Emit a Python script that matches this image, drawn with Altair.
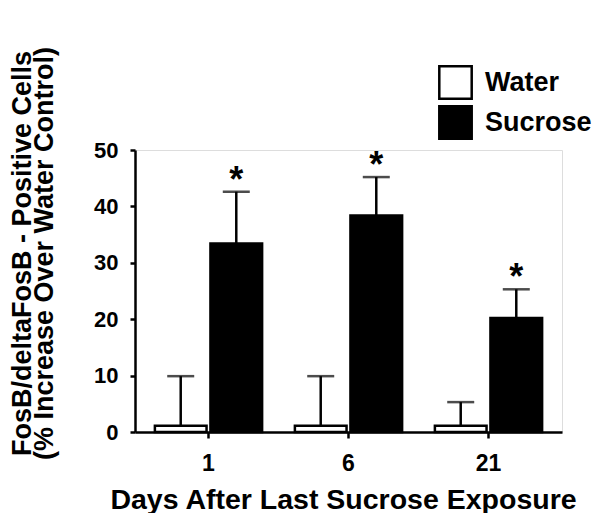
import altair as alt
import pandas as pd

days = ["1", "6", "21"]
groups = ["Water", "Sucrose"]
water_mean = [1.1, 1.1, 1.1]
water_upper = [9.9, 9.9, 5.3]
sucrose_mean = [33.4, 38.4, 20.2]
sucrose_upper = [42.6, 45.2, 25.3]
sucrose_sig = ["*", "*", "*"]

rows = []
for i, d in enumerate(days):
    rows.append({"day": d, "group": "Water", "mean": water_mean[i], "upper": water_upper[i], "sig": ""})
    rows.append({"day": d, "group": "Sucrose", "mean": sucrose_mean[i], "upper": sucrose_upper[i], "sig": sucrose_sig[i]})
df = pd.DataFrame(rows)

FONT = "Liberation Sans"

x_enc = alt.X("day:N", sort=days,
              scale=alt.Scale(paddingInner=0.234, paddingOuter=0.142),
              axis=alt.Axis(title="Days After Last Sucrose Exposure", labelAngle=0,
                            labelFontSize=23, labelFont=FONT, labelFontWeight="bold",
                            labelColor="black", labelPadding=14,
                            titleFontSize=28.5, titleFont=FONT, titleFontWeight="bold",
                            titleColor="black", titleY=76, titleX=208, titleBaseline="alphabetic",
                            domainColor="black", domainWidth=2.5,
                            tickColor="black", tickWidth=2.5, tickSize=6))
xo_enc = alt.XOffset("group:N", sort=groups, scale=alt.Scale(paddingInner=0.07))
y_enc = alt.Y("mean:Q",
              scale=alt.Scale(domain=[0, 50], nice=False),
              axis=alt.Axis(title=["FosB/deltaFosB - Positive Cells", "(% Increase Over Water Control)"],
                            values=[0, 10, 20, 30, 40, 50], grid=False,
                            labelFontSize=22, labelFont=FONT, labelFontWeight="bold",
                            labelColor="black", labelPadding=12,
                            titleFontSize=27, titleFont=FONT, titleFontWeight="bold",
                            titleColor="black", titleX=-99, titleY=103,
                            titleBaseline="bottom", titleLineHeight=22, titleAngle=270,
                            domainColor="black", domainWidth=2.5,
                            tickColor="black", tickWidth=2.5, tickSize=5))

base = alt.Chart(df)

err = base.mark_rule(color="black", strokeWidth=2.5).encode(
    x=x_enc, xOffset=xo_enc, y="mean:Q", y2="upper:Q")

cap = base.mark_tick(color="black", thickness=2.5, size=27, orient="horizontal").encode(
    x=alt.X("day:N", sort=days), xOffset=alt.XOffset("group:N", sort=groups), y="upper:Q")

bars = base.mark_bar(stroke="black", strokeWidth=2.5).encode(
    x=alt.X("day:N", sort=days), xOffset=alt.XOffset("group:N", sort=groups), y=y_enc,
    color=alt.Color("group:N", sort=groups,
                    scale=alt.Scale(domain=groups, range=["white", "black"]),
                    legend=alt.Legend(title=None, orient="none", legendX=303, legendY=-85,
                                      symbolType="square", symbolSize=1050,
                                      symbolStrokeColor="black", symbolStrokeWidth=2.5,
                                      labelFontSize=27, labelFont=FONT, labelFontWeight="bold",
                                      labelColor="black", labelOffset=12, rowPadding=-3)))

stars = base.mark_text(fontSize=36, font=FONT, fontWeight="bold", color="black",
                       baseline="alphabetic", dy=0).encode(
    x=alt.X("day:N", sort=days), xOffset=alt.XOffset("group:N", sort=groups),
    y="upper:Q", text="sig:N")

chart = alt.layer(err, bars, cap, stars).properties(
    width=427, height=282,
    autosize=alt.AutoSizeParams(type="none"),
    padding={"left": 127, "top": 142, "right": 31, "bottom": 81},
).configure_view(stroke=None).configure(background="white")

chart.save("out.html", embed_options={"renderer": "svg", "actions": False})
